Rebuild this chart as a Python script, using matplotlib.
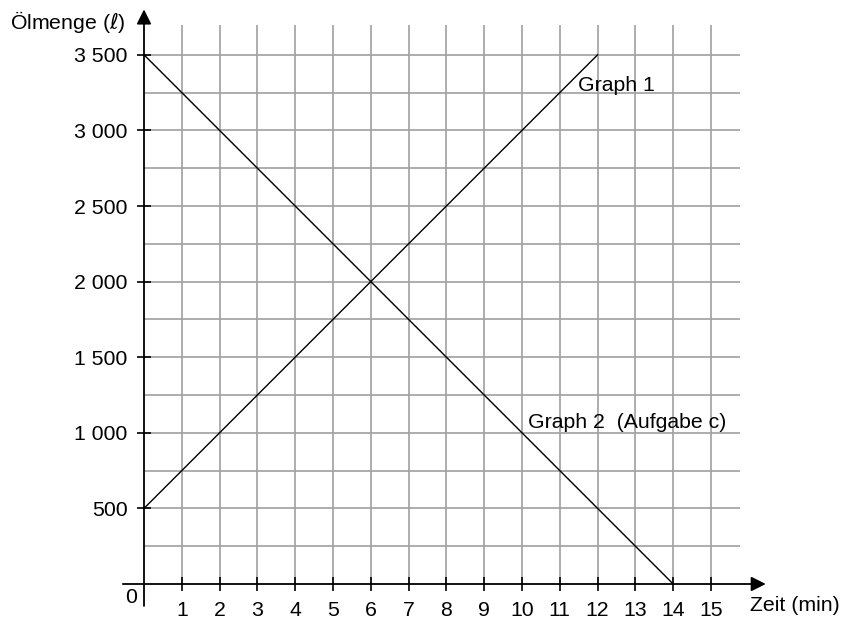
import matplotlib
matplotlib.use("Agg")
import matplotlib.pyplot as plt
import numpy as np

plt.rcParams['font.family'] = ['Liberation Sans', 'DejaVu Sans']
plt.rcParams['mathtext.fontset'] = 'dejavusans'

# data
graph1_x = [0, 12]
graph1_y = [500, 3500]
graph2_x = [0, 14]
graph2_y = [3500, 0]

x_ticks = list(range(1, 16))
y_ticks = [500, 1000, 1500, 2000, 2500, 3000, 3500]
y_tick_labels = ["500", "1 000", "1 500", "2 000", "2 500", "3 000", "3 500"]
grid_x = list(range(1, 16))
grid_y = list(range(250, 3501, 250))

# pixel mapping: origin at (144, 584), 37.8 px per unit / per 250
px_unit = 37.8
W, H = 844, 619
ox, oy = 144, 584
xlim = (-ox / px_unit, (W - ox) / px_unit)
ylim = (-(H - oy) / px_unit * 250, oy / px_unit * 250)

fs = 15.3

fig = plt.figure(figsize=(W / 100, H / 100), dpi=100)
ax = fig.add_axes([0, 0, 1, 1])
ax.set_xlim(*xlim)
ax.set_ylim(*ylim)

# grid
grid_col = "#a0a0a0"
ax.vlines(grid_x, 0, 3697, color=grid_col, lw=1.2, zorder=1)
ax.hlines(grid_y, 0, 15.77, color=grid_col, lw=1.2, zorder=1)

# graphs
ax.plot(graph1_x, graph1_y, color="black", lw=1.0, zorder=3)
ax.plot(graph2_x, graph2_y, color="black", lw=1.0, zorder=3)

# axes with arrows
for s in ax.spines.values():
    s.set_visible(False)
ax.annotate("", xy=(16.45, 0), xytext=(-0.56, 0),
            arrowprops=dict(arrowstyle="-|>", color="black", lw=1.3,
                            mutation_scale=22, shrinkA=0, shrinkB=0))
ax.annotate("", xy=(0, 3800), xytext=(0, -145),
            arrowprops=dict(arrowstyle="-|>", color="black", lw=1.3,
                            mutation_scale=22, shrinkA=0, shrinkB=0))

# ticks
ax.spines['left'].set_position(('data', 0))
ax.spines['bottom'].set_position(('data', 0))
ax.set_xticks(x_ticks)
ax.set_xticklabels([str(v) for v in x_ticks])
ax.set_yticks(y_ticks)
ax.set_yticklabels(y_tick_labels)
ax.tick_params(axis='x', direction='inout', length=10, width=1.2, pad=7,
               labelsize=fs)
ax.tick_params(axis='y', direction='inout', length=10, width=1.2, pad=7,
               labelsize=fs)

# labels
ax.text(-0.34, -92, "0", ha="center", va="center", fontsize=fs)
ax.text(-3.545, 3717, r"Ölmenge ($\ell$)", ha="left", va="center", fontsize=fs)
ax.text(16.03, -145, "Zeit (min)", ha="left", va="center", fontsize=fs)
ax.text(11.48, 3300, "Graph 1", ha="left", va="center", fontsize=fs)
ax.text(10.16, 1071, "Graph 2  (Aufgabe c)", ha="left", va="center", fontsize=fs)

fig.savefig("out.png", dpi=100)
